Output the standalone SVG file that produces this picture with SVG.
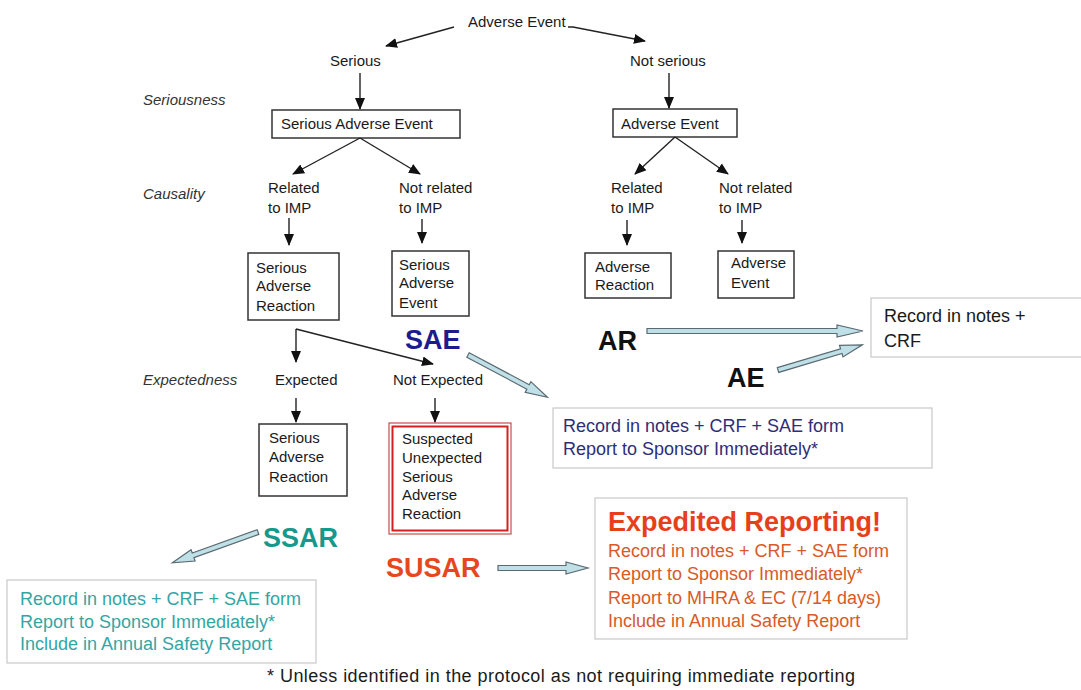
<svg xmlns="http://www.w3.org/2000/svg" width="1081" height="690" viewBox="0 0 1081 690">
<style>
text{font-family:"Liberation Sans",Arial,sans-serif;fill:#1a1a1a}
.t{font-size:15px}
.i{font-size:15px;font-style:italic;fill:#333}
.box{fill:#fff;stroke:#333;stroke-width:1.5}
.gbox{fill:#fff;stroke:#c8c8c8;stroke-width:1.2}
.ln{stroke:#222;stroke-width:1.4;fill:none;marker-end:url(#ah)}
.blk{fill:#bfe0e6;stroke:#5a6a72;stroke-width:1.2}
.big{font-size:27px;font-weight:bold}
.r{font-size:18px}
</style>
<defs>
<marker id="ah" markerUnits="userSpaceOnUse" markerWidth="12" markerHeight="12" viewBox="0 0 12 12" refX="11" refY="6" orient="auto">
<path d="M0,1 L12,6 L0,11 z" fill="#111"/>
</marker>
</defs>
<rect width="1081" height="690" fill="#fff"/>

<g id="labels">
<text class="i" x="143" y="105">Seriousness</text>
<text class="i" x="143" y="199">Causality</text>
<text class="i" x="143" y="385">Expectedness</text>
</g>

<g id="n-root"><text class="t" x="468" y="27">Adverse Event</text></g>
<g id="n-serious"><text class="t" x="330" y="66">Serious</text></g>
<g id="n-notserious"><text class="t" x="630" y="66">Not serious</text></g>

<g id="n-sae-top"><rect class="box" x="272" y="110" width="188" height="28"/><text class="t" x="281" y="129">Serious Adverse Event</text></g>
<g id="n-ae-top"><rect class="box" x="613" y="109" width="124" height="28"/><text class="t" x="621" y="129">Adverse Event</text></g>

<g id="n-rel1"><text class="t" x="268" y="193">Related</text><text class="t" x="268" y="213">to IMP</text></g>
<g id="n-notrel1"><text class="t" x="399" y="193">Not related</text><text class="t" x="399" y="213">to IMP</text></g>
<g id="n-rel2"><text class="t" x="611" y="193">Related</text><text class="t" x="611" y="213">to IMP</text></g>
<g id="n-notrel2"><text class="t" x="719" y="193">Not related</text><text class="t" x="719" y="213">to IMP</text></g>

<g id="n-sar1"><rect class="box" x="248" y="253" width="91" height="67"/><text class="t" x="256" y="273">Serious</text><text class="t" x="256" y="291">Adverse</text><text class="t" x="256" y="311">Reaction</text></g>
<g id="n-sae2"><rect class="box" x="392" y="251" width="77" height="65"/><text class="t" x="399" y="270">Serious</text><text class="t" x="399" y="288">Adverse</text><text class="t" x="399" y="308">Event</text></g>
<g id="n-ar"><rect class="box" x="585" y="253" width="86" height="45"/><text class="t" x="595" y="272">Adverse</text><text class="t" x="595" y="290">Reaction</text></g>
<g id="n-ae2"><rect class="box" x="718" y="251" width="76" height="47"/><text class="t" x="731" y="268">Adverse</text><text class="t" x="731" y="288">Event</text></g>

<g id="n-expected"><text class="t" x="275" y="385">Expected</text></g>
<g id="n-notexpected"><text class="t" x="393" y="385">Not Expected</text></g>

<g id="n-sar2"><rect class="box" x="259" y="424" width="88" height="72"/><text class="t" x="269" y="443">Serious</text><text class="t" x="269" y="462">Adverse</text><text class="t" x="269" y="482">Reaction</text></g>
<g id="n-susar-box"><rect x="389" y="423" width="122" height="111" fill="#fff" stroke="#c0504d" stroke-width="1.2"/><rect x="392.5" y="426.5" width="115" height="104" fill="none" stroke="#d42020" stroke-width="2"/>
<text class="t" x="402" y="444">Suspected</text><text class="t" x="402" y="463">Unexpected</text><text class="t" x="402" y="482">Serious</text><text class="t" x="402" y="500">Adverse</text><text class="t" x="402" y="519">Reaction</text></g>

<g id="n-recordcrf"><rect class="gbox" x="871" y="298" width="215" height="59"/><text class="r" x="884" y="322">Record in notes +</text><text class="r" x="884" y="347">CRF</text></g>
<g id="n-AR"><text class="big" x="598" y="350" style="fill:#111">AR</text></g>
<g id="n-AE"><text class="big" x="727" y="387" style="fill:#111">AE</text></g>
<g id="n-SAE"><text class="big" x="405" y="349" style="fill:#1c1c8e">SAE</text></g>
<g id="n-saerecord"><rect class="gbox" x="553" y="408" width="379" height="60"/><text class="r" x="563" y="432" style="fill:#2e2e78">Record in notes + CRF + SAE form</text><text class="r" x="563" y="455" style="fill:#2e2e78">Report to Sponsor Immediately*</text></g>
<g id="n-SSAR"><text class="big" x="263" y="547" style="fill:#16988a">SSAR</text></g>
<g id="n-ssarrecord"><rect class="gbox" x="7" y="580" width="309" height="83"/><text class="r" x="20" y="605" style="fill:#33a6a4">Record in notes + CRF + SAE form</text><text class="r" x="20" y="628" style="fill:#33a6a4">Report to Sponsor Immediately*</text><text class="r" x="20" y="650" style="fill:#33a6a4">Include in Annual Safety Report</text></g>
<g id="n-SUSAR"><text class="big" x="386" y="577" style="fill:#e8461c">SUSAR</text></g>
<g id="n-expedited"><rect class="gbox" x="595" y="498" width="312" height="141"/><text x="608" y="531" style="font-size:27px;font-weight:bold;fill:#e6401a">Expedited Reporting!</text>
<text class="r" x="608" y="557" style="fill:#d85a26">Record in notes + CRF + SAE form</text><text class="r" x="608" y="580" style="fill:#d85a26">Report to Sponsor Immediately*</text><text class="r" x="608" y="604" style="fill:#d85a26">Report to MHRA &amp; EC (7/14 days)</text><text class="r" x="608" y="627" style="fill:#d85a26">Include in Annual Safety Report</text></g>

<g id="footnote"><text x="267" y="682" style="font-size:18px" textLength="588" lengthAdjust="spacing">* Unless identified in the protocol as not requiring immediate reporting</text></g>

<g id="connectors">
<line class="ln" x1="454" y1="27" x2="386" y2="46"/>
<path d="M568,27 L573,27 L645,41" class="ln"/>
<line class="ln" x1="360" y1="73" x2="360" y2="109"/>
<line class="ln" x1="669" y1="73" x2="669" y2="108"/>
<line class="ln" x1="360" y1="138" x2="293" y2="174"/>
<line class="ln" x1="360" y1="138" x2="420" y2="174"/>
<line class="ln" x1="675" y1="137" x2="635" y2="174"/>
<line class="ln" x1="675" y1="137" x2="728" y2="174"/>
<line class="ln" x1="289" y1="218" x2="289" y2="245"/>
<line class="ln" x1="422" y1="219" x2="422" y2="243"/>
<line class="ln" x1="627" y1="220" x2="627" y2="245"/>
<line class="ln" x1="742" y1="220" x2="742" y2="243"/>
<line class="ln" x1="296" y1="329" x2="296" y2="362"/>
<line class="ln" x1="296" y1="329" x2="433" y2="364"/>
<line class="ln" x1="296" y1="398" x2="296" y2="422"/>
<line class="ln" x1="435" y1="398" x2="435" y2="422"/>
<polygon class="blk" transform="translate(647,331)" points="0,-2.5 190,-2.5 190,-6 216,0 190,6 190,2.5 0,2.5"/>
<polygon class="blk" transform="translate(778,370) rotate(-16.6)" points="0,-2.5 66,-2.5 66,-6 88,0 66,6 66,2.5 0,2.5"/>
<polygon class="blk" transform="translate(468,355) rotate(28)" points="0,-2.5 68,-2.5 68,-6 90,0 68,6 68,2.5 0,2.5"/>
<polygon class="blk" transform="translate(258,532) rotate(160.2)" points="0,-2.5 69,-2.5 69,-6 91,0 69,6 69,2.5 0,2.5"/>
<polygon class="blk" transform="translate(498,568)" points="0,-2.5 68,-2.5 68,-6 90,0 68,6 68,2.5 0,2.5"/>
</g>
</svg>
